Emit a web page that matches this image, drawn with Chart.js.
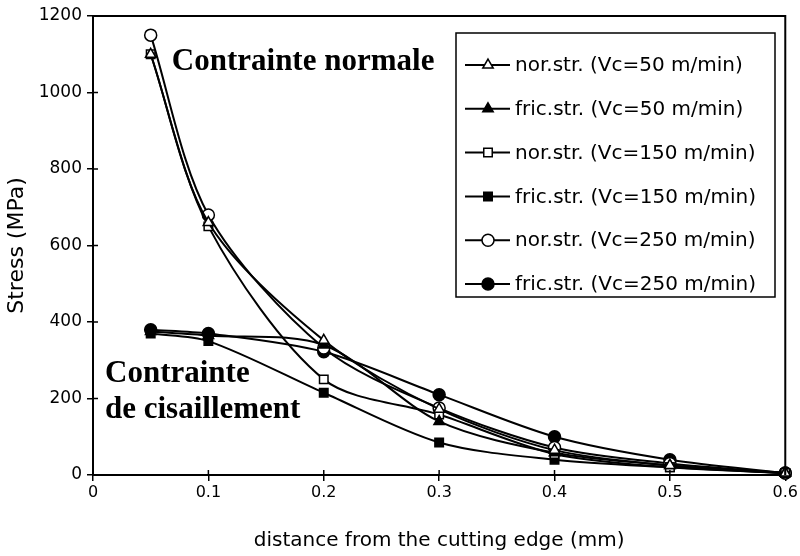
<!DOCTYPE html>
<html><head><meta charset="utf-8">
<script src="https://cdn.jsdelivr.net/npm/chart.js@4/dist/chart.umd.min.js"></script>
<style>html,body{margin:0;padding:0;background:#fff}</style>
</head><body>
<canvas id="c" width="800" height="556"></canvas>
<script>
// ---- data ----
const distances = [0.05, 0.1, 0.2, 0.3, 0.4, 0.5, 0.6];
const norStrVc50  = [1100, 660, 352, 172, 65, 25, 5];
const fricStrVc50 = [375, 365, 340, 140, 58, 25, 5];
const norStrVc150 = [1100, 650, 250, 158, 55, 20, 5];
const fricStrVc150 = [370, 350, 215, 85, 40, 20, 5];
const norStrVc250 = [1150, 680, 332, 175, 72, 30, 5];
const fricStrVc250 = [380, 370, 322, 210, 100, 40, 5];
const seriesLabels = [
  "nor.str. (Vc=50 m/min)", "fric.str. (Vc=50 m/min)",
  "nor.str. (Vc=150 m/min)", "fric.str. (Vc=150 m/min)",
  "nor.str. (Vc=250 m/min)", "fric.str. (Vc=250 m/min)"
];
const xTicks = [0, 0.1, 0.2, 0.3, 0.4, 0.5, 0.6];
const yTicks = [0, 200, 400, 600, 800, 1000, 1200];
const xTitle = "distance from the cutting edge (mm)";
const yTitle = "Stress (MPa)";
const noteNormal = "Contrainte normale";
const noteShear = ["Contrainte", "de cisaillement"];

const seriesValues = [norStrVc50, fricStrVc50, norStrVc150, fricStrVc150, norStrVc250, fricStrVc250];
const styles = [
  {pointStyle: 'triangle', fill: '#fff'},
  {pointStyle: 'triangle', fill: '#000'},
  {pointStyle: 'rect', fill: '#fff'},
  {pointStyle: 'rect', fill: '#000'},
  {pointStyle: 'circle', fill: '#fff'},
  {pointStyle: 'circle', fill: '#000'}
];

const datasets = seriesValues.map((vals, i) => ({
  label: seriesLabels[i],
  data: distances.map((d, j) => ({x: d, y: vals[j]})),
  borderColor: '#000',
  borderWidth: 2,
  backgroundColor: styles[i].fill,
  pointBackgroundColor: styles[i].fill,
  pointBorderColor: '#000',
  pointBorderWidth: 1.5,
  pointStyle: styles[i].pointStyle,
  pointRadius: 6,
  tension: 0.3,
  clip: false,
  fill: false
}));

const frameAndTicks = {
  id: 'frameAndTicks',
  afterDatasetsDraw(chart) {
    const ctx = chart.ctx, a = chart.chartArea;
    const xs = chart.scales.x, ys = chart.scales.y;
    ctx.save();
    ctx.strokeStyle = '#000';
    ctx.lineWidth = 2;
    ctx.beginPath();
    ctx.moveTo(a.left, a.top); ctx.lineTo(a.right, a.top); ctx.lineTo(a.right, a.bottom);
    ctx.stroke();
    ctx.lineWidth = 1.5;
    ctx.beginPath();
    yTicks.forEach(v => { const y = ys.getPixelForValue(v); ctx.moveTo(a.left, y); ctx.lineTo(a.left + 5, y); });
    xTicks.forEach(v => { const x = xs.getPixelForValue(v); ctx.moveTo(x, a.bottom); ctx.lineTo(x, a.bottom - 5); });
    ctx.stroke();

    // annotations
    ctx.fillStyle = '#000';
    ctx.font = 'bold 31px "Liberation Serif", "Times New Roman", serif';
    ctx.textBaseline = 'alphabetic';
    ctx.textAlign = 'left';
    ctx.fillText(noteNormal, xs.getPixelForValue(0.0683), ys.getPixelForValue(1059));
    ctx.fillText(noteShear[0], xs.getPixelForValue(0.0104), ys.getPixelForValue(243));
    ctx.fillText(noteShear[1], xs.getPixelForValue(0.0104), ys.getPixelForValue(149));

    // legend
    const bx = 456, by = 33, bw = 319, bh = 264;
    ctx.fillStyle = '#fff';
    ctx.fillRect(bx, by, bw, bh);
    ctx.lineWidth = 1.5;
    ctx.strokeStyle = '#000';
    ctx.strokeRect(bx, by, bw, bh);
    ctx.font = '20px "DejaVu Sans", sans-serif';
    ctx.textBaseline = 'middle';
    chart.data.datasets.forEach((ds, i) => {
      const cy = by + 32 + i * 43.8;
      ctx.strokeStyle = '#000';
      ctx.lineWidth = 2;
      ctx.beginPath(); ctx.moveTo(bx + 9, cy); ctx.lineTo(bx + 54, cy); ctx.stroke();
      ctx.fillStyle = ds.pointBackgroundColor;
      ctx.lineWidth = 1.5;
      Chart.helpers.drawPoint(ctx, {pointStyle: ds.pointStyle, radius: 6, rotation: 0, borderWidth: 1.5}, bx + 32, cy);
      ctx.fillStyle = '#000';
      ctx.fillText(ds.label, bx + 59, cy + 1);
    });
    ctx.restore();
  }
};

new Chart(document.getElementById('c'), {
  type: 'line',
  data: {datasets},
  options: {
    responsive: false,
    animation: false,
    devicePixelRatio: 1,
    layout: {padding: {top: 16, right: 13, left: 0, bottom: 0}},
    plugins: {legend: {display: false}, tooltip: {enabled: false}},
    scales: {
      x: {
        type: 'linear', min: 0, max: 0.6,
        afterFit: s => { s.height = 81; },
        afterBuildTicks: s => { s.ticks = xTicks.map(v => ({value: v})); },
        ticks: {color: '#000', font: {family: '"DejaVu Sans", sans-serif', size: 16}, padding: 2,
                callback: v => String(v)},
        grid: {display: true, drawOnChartArea: false, drawTicks: true, tickLength: 6, color: '#000', lineWidth: 1.5},
        border: {display: true, color: '#000', width: 2},
        title: {display: true, text: xTitle, color: '#000', font: {family: '"DejaVu Sans", sans-serif', size: 20}, padding: {top: 0, bottom: 3}}
      },
      y: {
        type: 'linear', min: 0, max: 1200,
        afterFit: s => { s.width = 93; },
        afterBuildTicks: s => { s.ticks = yTicks.map(v => ({value: v})); },
        ticks: {color: '#000', font: {family: '"DejaVu Sans", sans-serif', size: 17}, padding: 5,
                callback: v => String(v)},
        grid: {display: true, drawOnChartArea: false, drawTicks: true, tickLength: 6, color: '#000', lineWidth: 1.5},
        border: {display: true, color: '#000', width: 2},
        title: {display: true, text: yTitle, color: '#000', font: {family: '"DejaVu Sans", sans-serif', size: 22}, padding: {top: 4, bottom: 0}}
      }
    }
  },
  plugins: [frameAndTicks]
});
</script>
</body></html>
